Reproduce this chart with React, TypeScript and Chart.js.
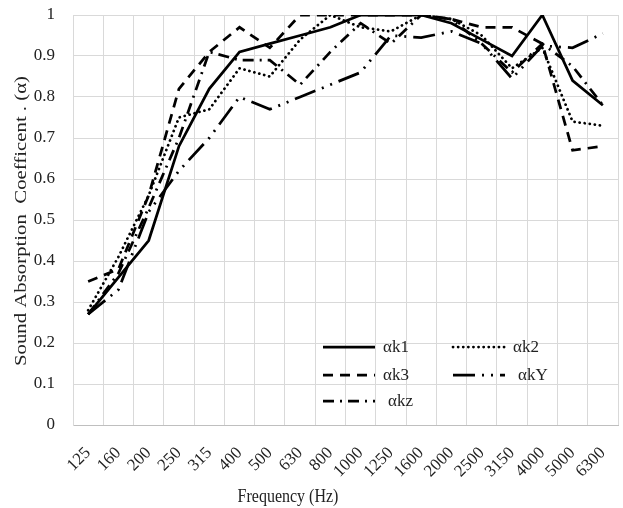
import React, { useEffect, useRef } from "react";
import { Chart, registerables } from "chart.js";

Chart.register(...registerables);

const categories = ["125", "160", "200", "250", "315", "400", "500", "630", "800", "1000", "1250", "1600", "2000", "2500", "3150", "4000", "5000", "6300"];

const k1 = [0.27, 0.36, 0.45, 0.68, 0.82, 0.91, 0.93, 0.95, 0.97, 1.0, 1.0, 1.0, 0.98, 0.94, 0.90, 1.0, 0.84, 0.78];
const k2 = [0.28, 0.41, 0.56, 0.75, 0.77, 0.87, 0.85, 0.94, 1.0, 0.97, 0.96, 1.0, 0.99, 0.95, 0.87, 0.92, 0.74, 0.73];
const k3 = [0.35, 0.38, 0.56, 0.82, 0.91, 0.97, 0.92, 1.0, 1.0, 1.0, 1.0, 1.0, 0.99, 0.97, 0.97, 0.93, 0.67, 0.68];
const kY = [0.27, 0.33, 0.52, 0.62, 0.70, 0.80, 0.77, 0.80, 0.83, 0.86, 0.95, 0.945, 0.96, 0.93, 0.845, 0.925, 0.92, 0.955];
const kz = [0.27, 0.37, 0.53, 0.70, 0.91, 0.89, 0.89, 0.83, 0.91, 0.98, 0.93, 1.0, 0.99, 0.93, 0.86, 0.93, 0.875, 0.78];

const seriesLabels = ["αk1", "αk2", "αk3", "αkY", "αkz"];
const yTicks = [0, 0.1, 0.2, 0.3, 0.4, 0.5, 0.6, 0.7, 0.8, 0.9, 1];

const X_TITLE = "Frequency (Hz)";
const Y_TITLE = "Sound Absorption  Coefficent . (α)";

const FONT_FAMILY = '"Liberation Serif", "Times New Roman", serif';
const TEXT_COLOR = "#222";
const GRID_COLOR = "#d9d9d9";

const dashes: number[][] = [[], [0.1, 5], [10, 7], [22, 7, 2, 7, 2, 7], [11, 6, 2, 6]];
const caps = ["butt", "round", "butt", "butt", "butt"];

const overlayPlugin = {
  id: "overlay",
  afterDraw(chart: any) {
    const { ctx } = chart;
    ctx.save();
    ctx.fillStyle = TEXT_COLOR;
    ctx.textBaseline = "middle";
    // axis titles
    ctx.font = `16px ${FONT_FAMILY}`;
    ctx.textAlign = "center";
    ctx.save();
    ctx.translate(288, 497);
    ctx.scale(1, 1.15);
    ctx.fillText(X_TITLE, 0, 0);
    ctx.restore();
    ctx.save();
    ctx.translate(22, 221);
    ctx.rotate(-Math.PI / 2);
    ctx.font = `17px ${FONT_FAMILY}`;
    const w = ctx.measureText(Y_TITLE).width;
    ctx.scale(290 / w, 1);
    ctx.fillText(Y_TITLE, 0, 0);
    ctx.restore();

    // legend
    const slots = [
      { x: 323, y: 347, tx: 383 },
      { x: 453, y: 347, tx: 513 },
      { x: 323, y: 375, tx: 383 },
      { x: 453, y: 375, tx: 518 },
      { x: 323, y: 401, tx: 388 },
    ];
    ctx.font = `17px ${FONT_FAMILY}`;
    ctx.textAlign = "left";
    chart.data.datasets.forEach((ds: any, i: number) => {
      const s = slots[i];
      ctx.save();
      ctx.strokeStyle = "#000";
      ctx.lineWidth = 2.75;
      ctx.lineCap = ds.borderCapStyle || "butt";
      ctx.setLineDash(ds.borderDash || []);
      ctx.beginPath();
      ctx.moveTo(s.x, s.y);
      ctx.lineTo(s.x + 52, s.y);
      ctx.stroke();
      ctx.restore();
      ctx.fillText(ds.label, s.tx, s.y + 1);
    });
    ctx.restore();
  },
};

export default function App() {
  const ref = useRef<HTMLCanvasElement | null>(null);
  useEffect(() => {
    document.body.style.margin = "0";
    const seriesData = [k1, k2, k3, kY, kz];
    const chart = new Chart(ref.current as HTMLCanvasElement, {
      type: "line",
      data: {
        labels: categories,
        datasets: seriesData.map((d, i) => ({
          label: seriesLabels[i],
          data: d,
          borderColor: "#000",
          backgroundColor: "#000",
          borderWidth: 2.75,
          borderDash: dashes[i],
          borderCapStyle: caps[i] as any,
          pointRadius: 0,
          tension: 0,
          fill: false,
        })),
      },
      options: {
        animation: false,
        responsive: false,
        maintainAspectRatio: false,
        layout: { padding: { top: 15, right: 5, left: 0, bottom: 0 } },
        plugins: { legend: { display: false }, tooltip: { enabled: false }, title: { display: false } },
        scales: {
          x: {
            type: "category",
            offset: true,
            grid: { offset: true, color: GRID_COLOR, drawTicks: false, lineWidth: 1 },
            border: { color: "#bfbfbf" },
            ticks: {
              autoSkip: false,
              maxRotation: 45,
              minRotation: 45,
              padding: 18,
              color: TEXT_COLOR,
              font: { family: FONT_FAMILY, size: 17 },
            },
            afterFit(scale: any) {
              scale.height = 83;
              scale.paddingLeft = 0;
              scale.paddingRight = 0;
            },
          },
          y: {
            min: 0,
            max: 1,
            afterBuildTicks(scale: any) {
              scale.ticks = yTicks.map((v) => ({ value: v }));
            },
            grid: { color: GRID_COLOR, drawTicks: false, lineWidth: 1 },
            border: { color: GRID_COLOR },
            ticks: {
              padding: 18,
              color: TEXT_COLOR,
              font: { family: FONT_FAMILY, size: 17 },
              callback: (v: any) => String(v),
            },
            afterFit(scale: any) {
              scale.width = 73;
              scale.paddingTop = 0;
              scale.paddingBottom = 0;
            },
          },
        },
      },
      plugins: [overlayPlugin],
    });
    return () => chart.destroy();
  }, []);
  return (
    <div style={{ width: 623, height: 508, position: "relative", background: "#fff" }}>
      <canvas ref={ref} width={623} height={508} style={{ display: "block" }} />
    </div>
  );
}
